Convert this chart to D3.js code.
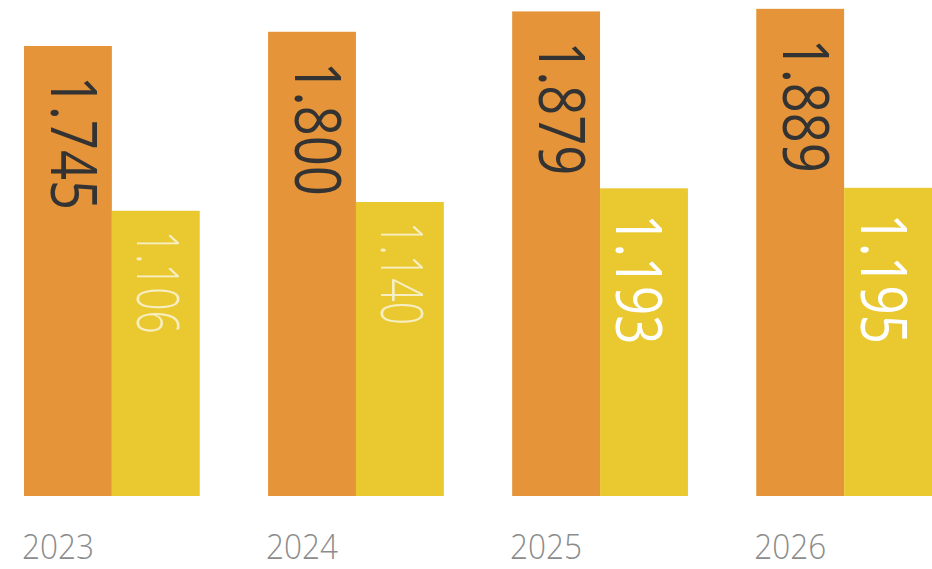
<!DOCTYPE html>
<html>
<head>
<meta charset="utf-8">
<script src="https://cdn.jsdelivr.net/npm/d3@7"></script>
<style>
  body { margin: 0; background: #fff; }
  svg { display: block; }
</style>
</head>
<body>
<div id="chart"></div>
<script>
// values
const years = ["2023", "2024", "2025", "2026"];
const firstSeries = [1.745, 1.800, 1.879, 1.889];
const secondSeries = [1.106, 1.140, 1.193, 1.195];
const seriesKeys = ["first", "second"];

const width = 932, height = 569;
const baseline = 496;

const rows = years.map((y, i) => ({ year: y, first: firstSeries[i], second: secondSeries[i] }));

const svg = d3.select("#chart")
    .append("svg")
    .attr("width", width)
    .attr("height", height);

// group scale, then the two bars inside a group
const x0 = d3.scaleBand()
    .domain(years)
    .range([24, 932])
    .paddingInner(0.28)
    .paddingOuter(0);

const x1 = d3.scaleBand()
    .domain(seriesKeys)
    .range([0, x0.bandwidth()])
    .padding(0);

const y = d3.scaleLinear()
    .domain([0, 1.9])
    .range([baseline, 6]);

const color = d3.scaleOrdinal()
    .domain(seriesKeys)
    .range(["#e5943a", "#eac830"]);

const groups = svg.selectAll(".group")
    .data(rows)
    .enter()
    .append("g")
    .attr("class", "group")
    .attr("transform", d => "translate(" + x0(d.year) + ",0)");

groups.selectAll("rect")
    .data(d => seriesKeys.map(k => ({ key: k, value: d[k], year: d.year })))
    .enter()
    .append("rect")
    .attr("x", d => x1(d.key))
    .attr("y", d => y(d.value))
    .attr("width", x1.bandwidth())
    .attr("height", d => baseline - y(d.value))
    .attr("fill", d => color(d.key));

// label look: older yellow labels are thin and creamy, the rest regular
function labelStyle(d) {
    if (d.key === "first") return { size: 64, len: 134, weight: 400, fill: "#333333", cap: 46, off: 30, dx: 6 };
    if (d.year === "2023" || d.year === "2024") return { size: 58, len: 103, weight: 300, fill: "#f7efc4", cap: 42, off: 20, dx: 2 };
    return { size: 64, len: 130, weight: 400, fill: "#ffffff", cap: 47, off: 26, dx: -4 };
}

groups.selectAll(".val")
    .data(d => seriesKeys.map(k => ({ key: k, value: d[k], year: d.year })))
    .enter()
    .append("text")
    .attr("class", "val")
    .each(function(d) {
        const s = labelStyle(d);
        const cx = x1(d.key) + x1.bandwidth() / 2 + s.dx;
        d3.select(this)
            .attr("transform", "translate(" + (cx - s.cap / 2) + "," + (y(d.value) + s.off) + ") rotate(90)")
            .attr("font-family", "'Open Sans', sans-serif")
            .attr("font-size", s.size)
            .attr("font-weight", s.weight)
            .attr("fill", s.fill)
            .attr("textLength", s.len)
            .attr("lengthAdjust", "spacingAndGlyphs");
    })
    .text(d => d.value.toFixed(3));

// year labels under the orange bars
svg.selectAll(".year")
    .data(years)
    .enter()
    .append("text")
    .attr("class", "year")
    .attr("x", d => x0(d) + x1("first") + x1.bandwidth() / 2 - 10)
    .attr("y", 559)
    .attr("text-anchor", "middle")
    .attr("font-family", "'Open Sans', sans-serif")
    .attr("font-size", 34)
    .attr("font-weight", 300)
    .attr("fill", "#8c8c8c")
    .attr("textLength", 72)
    .attr("lengthAdjust", "spacingAndGlyphs")
    .text(d => d);
</script>
</body>
</html>
